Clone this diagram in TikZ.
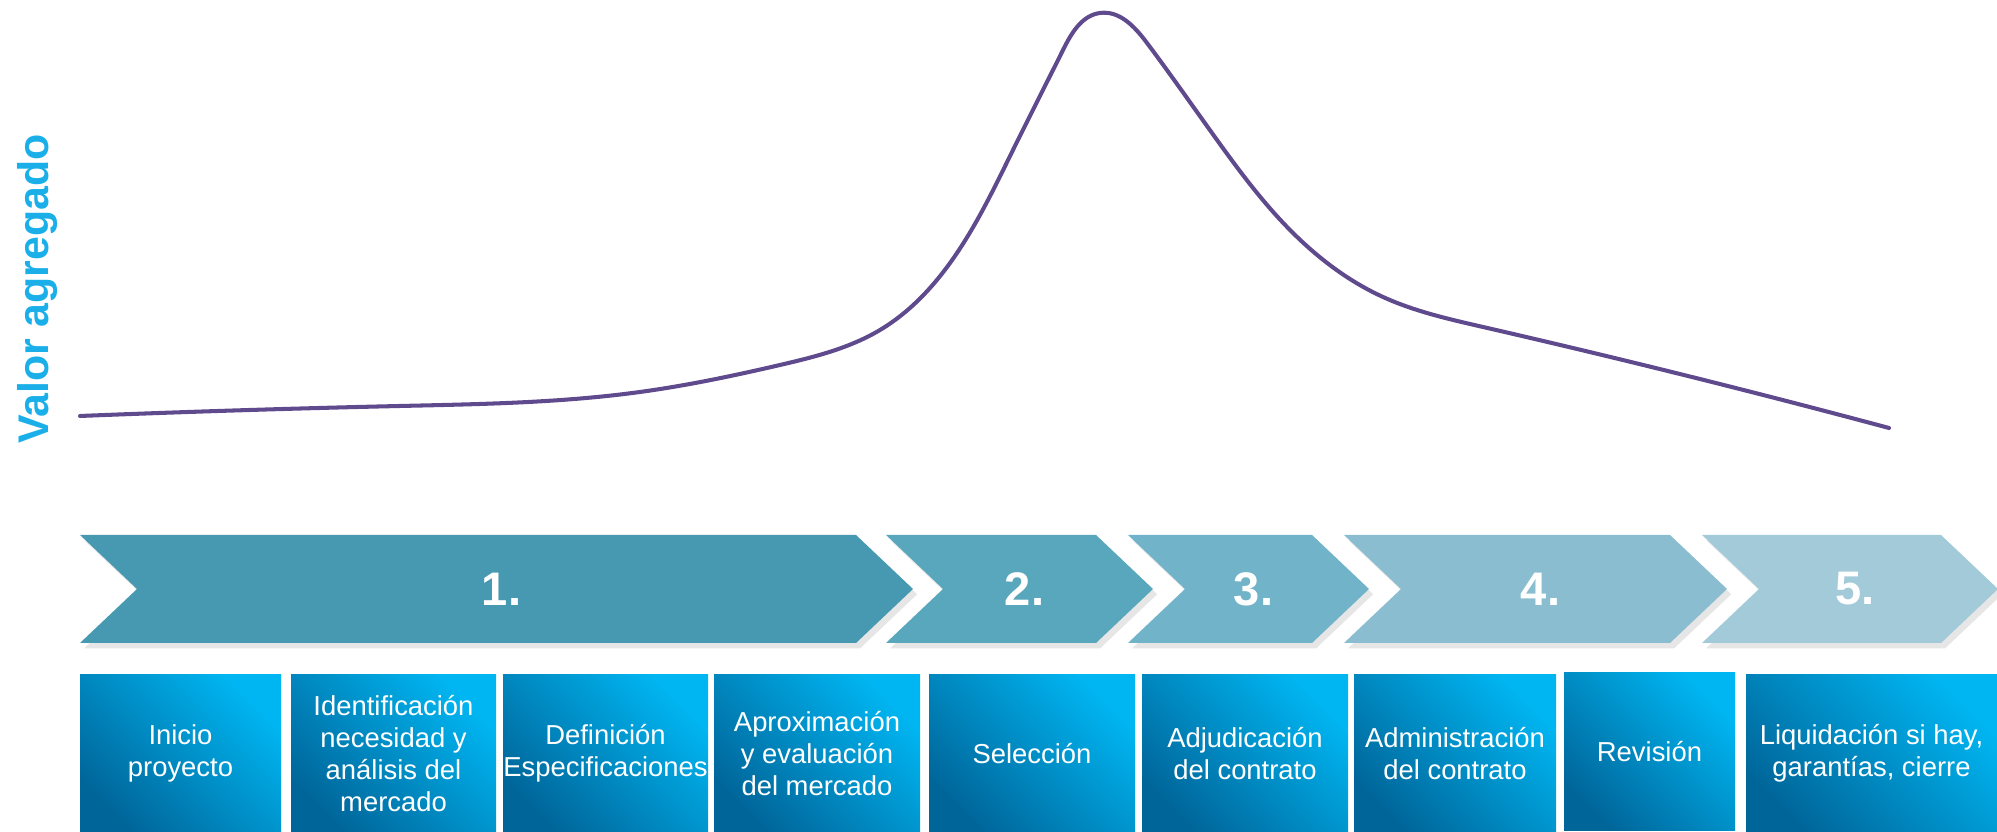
\documentclass[tikz,border=0pt]{standalone}
\usepackage{fontspec}
\setmainfont{Liberation Sans}
\usepackage{tikz}
\usetikzlibrary{calc}
\usetikzlibrary{shadows}
\usetikzlibrary{hobby}

\definecolor{curva}{HTML}{5E4A8C}
\definecolor{ejecolor}{HTML}{1AAFE9}
\definecolor{fase1}{HTML}{4699B1}
\definecolor{fase2}{HTML}{59A7BC}
\definecolor{fase3}{HTML}{71B3C8}
\definecolor{fase4}{HTML}{8ABDD0}
\definecolor{fase5}{HTML}{A2CAD9}
\definecolor{cajaclara}{HTML}{00B6F2}
\definecolor{cajaoscura}{HTML}{00669A}

\begin{document}
\begin{tikzpicture}[
    fase/.style={drop shadow={shadow xshift=1.2pt, shadow yshift=-1.5pt, opacity=0.2}},
    numero/.style={text=white, xshift=0.05cm, font=\fontsize{13.4}{16}\selectfont\bfseries},
    caja/.style={top color=cajaclara, bottom color=cajaoscura, shading angle=-45,
                 text=white, align=center, inner sep=0pt,
                 font=\fontsize{7.8}{9.1}\selectfont},
    eje/.style={rotate=90, text=ejecolor, font=\fontsize{12.2}{14}\selectfont\bfseries}
  ]
            \useasboundingbox (0,0) rectangle (19.97,8.32);
            \def\ta{2.97}  % top of the phases
            \def\tb{1.89}  % bottom of the phases
            \def\tm{2.43}  % tip height
            \def\d{0.57}   % depth of the tip

            % Draw axis label
            \node[eje] (valor) at (0.38,5.43) {Valor agregado};

            % Draw value curve
            \draw[curva, line width=1.15pt, line cap=round, use Hobby shortcut]
                (0.80,4.16) .. (4.00,4.26) .. (6.40,4.40) .. (7.80,4.67) .. (8.80,5.02)
                .. (9.57,5.79) .. (10.13,6.82) .. (10.63,7.82) .. (11.00,8.19) .. (11.47,7.89)
                .. (12.17,6.92) .. (12.90,6.02) .. (13.83,5.35) .. (14.83,5.05) .. (18.89,4.04);

            % Draw phases
            \foreach \l/\r/\c/\etiq [count=\i] in {0.80/8.56/fase1/1., 8.86/10.96/fase2/2.,
                11.28/13.12/fase3/3., 13.44/16.70/fase4/4., 17.02/19.41/fase5/5.} {
                \fill[\c, fase] (\l,\ta) -- (\r,\ta) -- (\r+\d,\tm) -- (\r,\tb)
                    -- (\l,\tb) -- (\l+\d,\tm) -- cycle;
                \node[numero] (f\i) at ({(\l+\r+\d)/2},\tm) {\etiq};
            }

            % Draw steps
            \foreach \l/\r/\b/\h/\txt [count=\i] in {
                0.80/2.81/0/1.57/{Inicio\\proyecto},
                2.91/4.96/0/1.57/{Identificación\\necesidad y\\análisis del\\mercado},
                5.03/7.08/0/1.57/{Definición\\Especificaciones},
                7.14/9.20/0/1.57/{Aproximación\\y evaluación\\del mercado},
                9.29/11.35/0/1.57/{Selección},
                11.42/13.48/0/1.57/{Adjudicación\\del contrato},
                13.54/15.56/0/1.57/{Administración\\del contrato},
                15.64/17.35/0.01/1.58/{Revisión},
                17.46/19.97/0/1.57/{Liquidación si hay,\\garantías, cierre}} {
                \pgfmathsetmacro\w{\r-\l}
                \node[caja, minimum width=\w cm, minimum height=\h cm]
                    (p\i) at ({(\l+\r)/2},{\b+\h/2}) {\txt};
            }
        \end{tikzpicture}
\end{document}
